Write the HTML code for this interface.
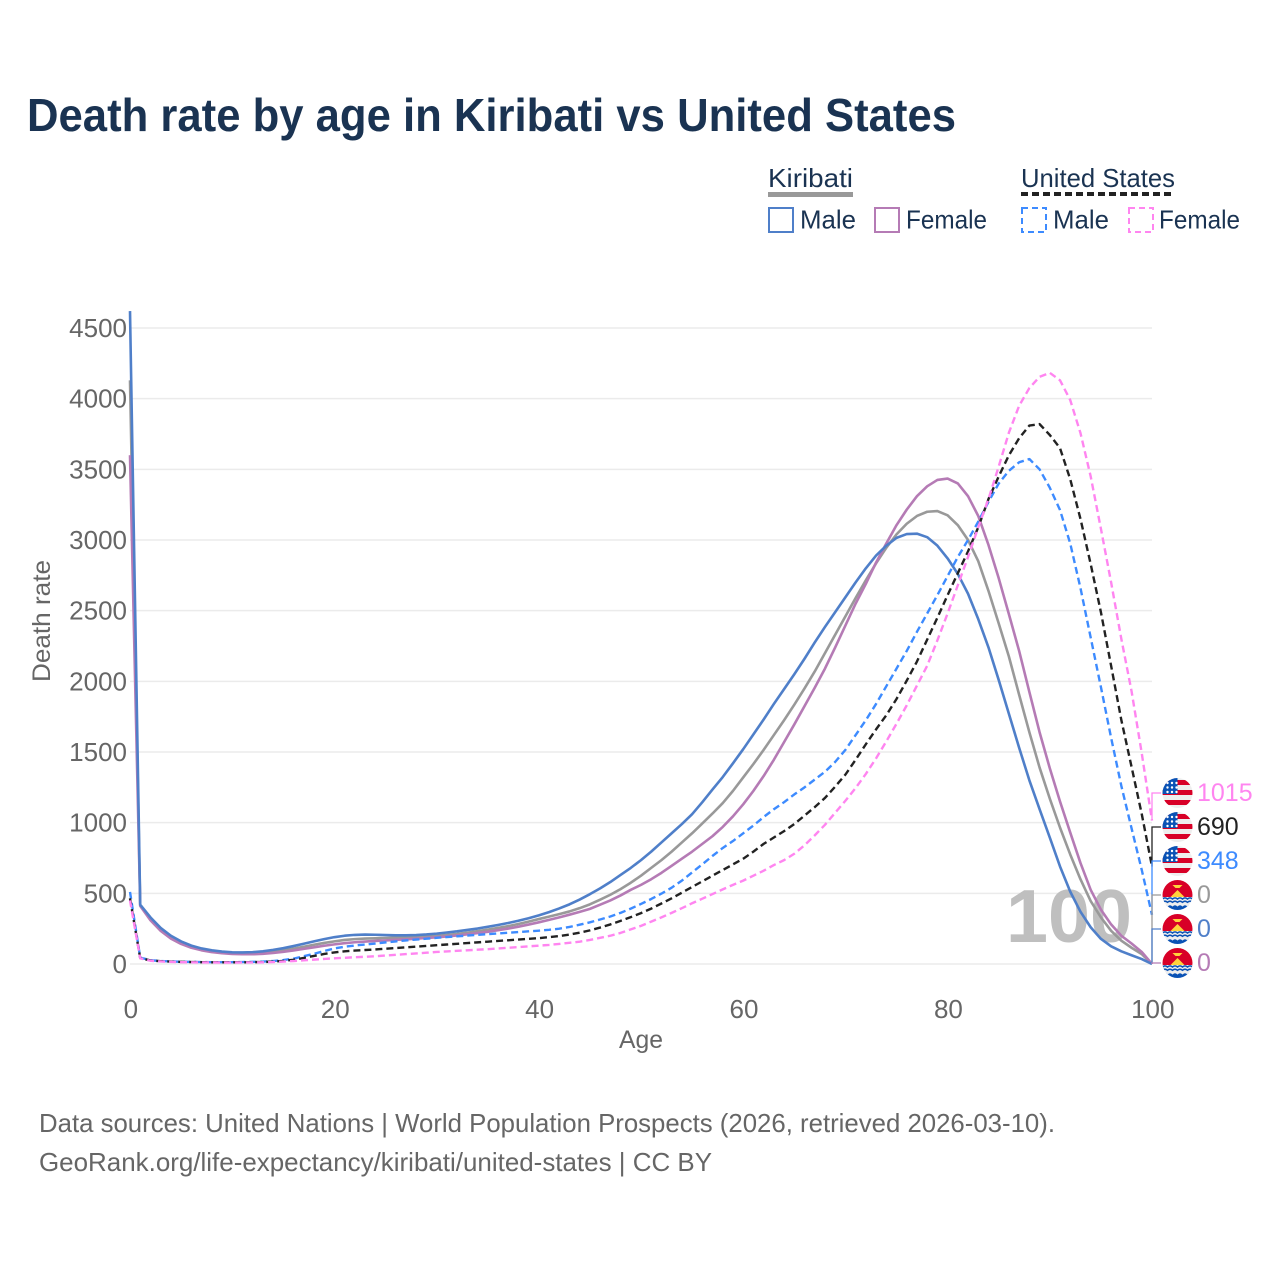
<!DOCTYPE html>
<html lang="en">
<head>
<meta charset="utf-8">
<title>Death rate by age in Kiribati vs United States</title>
<style>
html,body{margin:0;padding:0;background:#fff;width:1280px;height:1280px;overflow:hidden}
svg{display:block}
text{font-family:"Liberation Sans",sans-serif}
</style>
</head>
<body>
<svg id="chart" xmlns="http://www.w3.org/2000/svg" width="1280" height="1280" viewBox="0 0 1280 1280">
  <rect x="0" y="0" width="1280" height="1280" fill="#fff"/>
  <text x="27" y="131" font-size="46" font-weight="700" fill="#1a3352" textLength="929" lengthAdjust="spacingAndGlyphs">Death rate by age in Kiribati vs United States</text>

  <g font-size="26" fill="#1a3352">
    <text x="768" y="187" textLength="85" lengthAdjust="spacingAndGlyphs">Kiribati</text>
    <line x1="768" y1="194.5" x2="853" y2="194.5" stroke="#999" stroke-width="5"/>
    <text x="1021" y="187" textLength="154" lengthAdjust="spacingAndGlyphs">United States</text>
    <line x1="1021" y1="194" x2="1175" y2="194" stroke="#222" stroke-width="4" stroke-dasharray="7 4"/>
    <rect x="769" y="208" width="24" height="24" fill="none" stroke="#4f7fc9" stroke-width="2"/>
    <text x="800" y="228.5" textLength="56" lengthAdjust="spacingAndGlyphs">Male</text>
    <rect x="875" y="208" width="24" height="24" fill="none" stroke="#b57bb5" stroke-width="2"/>
    <text x="906" y="228.5" textLength="81" lengthAdjust="spacingAndGlyphs">Female</text>
    <rect x="1022" y="208" width="24" height="24" fill="none" stroke="#3d8bff" stroke-width="2" stroke-dasharray="6 4"/>
    <text x="1053" y="228.5" textLength="56" lengthAdjust="spacingAndGlyphs">Male</text>
    <rect x="1129" y="208" width="24" height="24" fill="none" stroke="#ff85f0" stroke-width="2" stroke-dasharray="6 4"/>
    <text x="1159" y="228.5" textLength="81" lengthAdjust="spacingAndGlyphs">Female</text>
  </g>

  <g id="grid"></g>
  <g id="yticks"></g>
  <g id="xticks"></g>
  <text x="1132" y="942" text-anchor="end" font-size="75" font-weight="700" fill="#bfbfbf" textLength="126" lengthAdjust="spacingAndGlyphs">100</text>
  <g id="series"></g>
  <g id="ends"></g>

  <text x="641" y="1048" text-anchor="middle" font-size="25" fill="#666" textLength="44" lengthAdjust="spacingAndGlyphs">Age</text>
  <text transform="translate(50,621) rotate(-90)" text-anchor="middle" font-size="25" fill="#666" textLength="122" lengthAdjust="spacingAndGlyphs">Death rate</text>
  <text x="39" y="1132" font-size="26" fill="#666" textLength="1016" lengthAdjust="spacingAndGlyphs">Data sources: United Nations | World Population Prospects (2026, retrieved 2026-03-10).</text>
  <text x="39" y="1171" font-size="26" fill="#666" textLength="673" lengthAdjust="spacingAndGlyphs">GeoRank.org/life-expectancy/kiribati/united-states | CC BY</text>
</svg>
<script>
const yTickValues = [0, 500, 1000, 1500, 2000, 2500, 3000, 3500, 4000, 4500];
const xTickValues = [0, 20, 40, 60, 80, 100];

const kiribatiAll = [
4130,415,320,245,190,150,122,102,90,81,
76,74,75,79,87,97,109,122,136,149,
160,170,176,180,182,184,186,188,190,194,
199,206,213,222,232,243,255,268,283,300,
318,335,353,372,395,422,455,490,530,575,
625,680,735,795,860,925,995,1065,1139,1225,
1320,1415,1515,1620,1725,1835,1950,2070,2200,2330,
2460,2590,2715,2835,2945,3040,3115,3170,3200,3205,
3175,3105,3000,2850,2640,2410,2175,1905,1640,1390,
1170,965,775,600,445,330,235,165,115,70,
0];
const kiribatiFemale = [
3600,410,310,235,180,142,115,97,84,76,
71,69,69,72,78,86,96,107,118,129,
139,147,154,159,163,167,171,175,179,184,
189,195,202,210,219,228,239,251,264,279,
295,312,330,349,369,390,420,450,485,525,
560,600,645,695,745,795,850,905,970,1045,
1130,1225,1330,1445,1570,1695,1825,1955,2090,2240,
2395,2550,2690,2840,2975,3105,3215,3310,3380,3425,
3435,3400,3310,3170,2965,2730,2475,2215,1925,1640,
1385,1150,930,715,525,385,280,200,145,85,
0];
const kiribatiMale = [
4620,420,330,255,200,160,130,110,97,88,
83,82,84,90,100,112,127,143,160,176,
190,200,206,208,207,205,203,203,205,209,
215,223,231,241,251,263,276,290,306,324,
344,367,393,422,456,494,535,580,630,680,
735,795,860,925,990,1060,1145,1235,1323,1420,
1520,1625,1730,1840,1945,2050,2160,2275,2385,2490,
2595,2700,2800,2890,2960,3015,3042,3045,3020,2960,
2870,2760,2620,2440,2240,2010,1770,1530,1300,1095,
895,690,512,370,260,178,125,90,62,35,
0];
const usMale = [
510,45,27,21,18,16,15,14,13,13,
13,14,15,17,21,28,38,55,72,92,
110,122,131,138,145,153,160,167,173,179,
185,191,196,201,206,211,216,221,226,231,
236,242,250,262,278,295,315,336,362,392,
425,460,498,540,590,648,705,765,821,870,
925,980,1040,1095,1145,1200,1250,1305,1360,1430,
1515,1620,1725,1840,1965,2090,2215,2350,2480,2610,
2745,2880,3000,3130,3270,3400,3490,3550,3573,3500,
3370,3212,2975,2660,2310,1960,1600,1260,960,665,
348];
const usAll = [
465,42,25,20,17,15,14,13,12,12,
12,12,13,14,17,22,30,43,57,71,
82,90,95,99,103,108,113,118,123,128,
133,138,143,148,153,158,163,168,173,178,
183,190,198,208,222,238,258,280,305,332,
360,392,428,465,505,545,585,625,665,705,
745,795,850,895,940,990,1050,1110,1175,1255,
1340,1445,1555,1660,1760,1875,2005,2140,2295,2450,
2610,2765,2920,3090,3290,3450,3600,3720,3810,3820,
3743,3650,3430,3150,2830,2490,2110,1726,1395,1060,
690];
const usFemale = [
450,40,23,18,15,13,12,11,11,10,
10,11,11,12,14,17,21,26,31,36,
40,44,48,51,55,60,65,70,75,80,
85,89,93,97,101,105,110,115,120,125,
130,135,142,150,158,170,185,200,220,245,
270,300,330,362,395,430,462,495,528,560,
590,625,660,700,735,780,840,910,985,1070,
1155,1245,1345,1455,1575,1700,1830,1970,2110,2290,
2480,2680,2880,3090,3290,3520,3760,3950,4075,4155,
4183,4130,3990,3757,3450,3080,2700,2300,1930,1490,
1015];

const seriesNames = ["kiribati-all", "kiribati-female", "kiribati-male", "us-male", "us-all", "us-female"];
const seriesValues = [kiribatiAll, kiribatiFemale, kiribatiMale, usMale, usAll, usFemale];
const seriesColors = ["#999999", "#b57bb5", "#4f7fc9", "#3d8bff", "#222222", "#ff85f0"];
const seriesDashed = [false, false, false, true, true, true];
const seriesCountry = ["kiribati", "kiribati", "kiribati", "us", "us", "us"];
const endLabelOrder = ["us-female", "us-all", "us-male", "kiribati-all", "kiribati-male", "kiribati-female"];

const NS = "http://www.w3.org/2000/svg";
function make(tag, parent) {
  const el = document.createElementNS(NS, tag);
  parent.appendChild(el);
  return el;
}
function xScale(age) { return 130 + age * 10.22; }
function yScale(value) { return 964 - value * 0.14133; }

const gridGroup = document.getElementById("grid");
const yGroup = document.getElementById("yticks");
const xGroup = document.getElementById("xticks");
const seriesGroup = document.getElementById("series");
const endsGroup = document.getElementById("ends");
const defs = make("defs", document.getElementById("chart"));

yTickValues.forEach(function (v) {
  const line = make("line", gridGroup);
  
  
  line.setAttribute("x1", xScale(0));
  line.setAttribute("x2", xScale(100));
  line.setAttribute("y1", yScale(v));
  line.setAttribute("y2", yScale(v));
  line.setAttribute("stroke", "#ebebeb");
  line.setAttribute("stroke-width", "1.5");
  const t = make("text", yGroup);
  
  
  t.setAttribute("x", 127);
  t.setAttribute("y", yScale(v) + 9);
  t.setAttribute("text-anchor", "end");
  t.setAttribute("font-size", "26");
  t.setAttribute("fill", "#666");
  t.textContent = v;
});

xTickValues.forEach(function (v) {
  const t = make("text", xGroup);
  
  
  t.setAttribute("x", xScale(v) + 0.8);
  t.setAttribute("y", 1018);
  t.setAttribute("text-anchor", "middle");
  t.setAttribute("font-size", "26");
  t.setAttribute("fill", "#666");
  t.textContent = v;
});

seriesValues.forEach(function (values, i) {
  const p = make("path", seriesGroup);
  
  
  p.setAttribute("d", values.map(function (v, age) {
    return (age ? "L" : "M") + xScale(age).toFixed(2) + "," + yScale(v).toFixed(2);
  }).join(""));
  p.setAttribute("fill", "none");
  p.setAttribute("stroke", seriesColors[i]);
  p.setAttribute("stroke-width", seriesDashed[i] ? "2.4" : "2.6");
  p.setAttribute("stroke-linejoin", "round");
  if (seriesDashed[i]) p.setAttribute("stroke-dasharray", "7 4");
});

function drawFlag(country, cx, cy, idx) {
  const id = "flag-clip-" + idx;
  const cp = make("clipPath", defs);
  cp.setAttribute("id", id);
  const cc = make("circle", cp);
  cc.setAttribute("cx", cx);
  cc.setAttribute("cy", cy);
  cc.setAttribute("r", 15);
  const g = make("g", endsGroup);
  
  
  g.setAttribute("clip-path", "url(#" + id + ")");
  function rect(x, y, w, h, fill) {
    const r = make("rect", g);
    r.setAttribute("x", x);
    r.setAttribute("y", y);
    r.setAttribute("width", w);
    r.setAttribute("height", h);
    r.setAttribute("fill", fill);
  }
  if (country === "us") {
    rect(cx - 15, cy - 15, 30, 30, "#eeeeee");
    for (let s = 0; s < 3; s++) {
      rect(cx - 15, cy - 13 + s * 10, 30, 5, "#d80027");
    }
    rect(cx - 15, cy - 15, 15, 16, "#0a52b5");
    for (let a = 0; a < 3; a++) {
      for (let b = 0; b < 3; b++) {
        const st = make("circle", g);
        st.setAttribute("cx", cx - 10 + a * 4.5);
        st.setAttribute("cy", cy - 10 + b * 4.5);
        st.setAttribute("r", 1.2);
        st.setAttribute("fill", "#fff");
      }
    }
  } else {
    rect(cx - 15, cy - 15, 30, 18, "#d80027");
    rect(cx - 15, cy + 2, 30, 13, "#eeeeee");
    rect(cx - 15, cy + 10, 30, 5, "#0a52b5");
    const sun = make("path", g);
    sun.setAttribute("d", "M" + (cx - 7) + "," + (cy + 2) + "L" + (cx - 3) + "," + (cy - 2) + "L" + cx + "," + (cy - 5) + "L" + (cx + 3) + "," + (cy - 2) + "L" + (cx + 7) + "," + (cy + 2) + "Z");
    sun.setAttribute("fill", "#ffd23c");
    const bird = make("path", g);
    bird.setAttribute("d", "M" + (cx - 5) + "," + (cy - 10) + "L" + (cx + 5) + "," + (cy - 10) + "L" + (cx + 2) + "," + (cy - 7) + "L" + (cx - 2) + "," + (cy - 7) + "Z");
    bird.setAttribute("fill", "#ffd23c");
    for (let w = 0; w < 3; w++) {
      const wave = make("path", g);
      let d = "M" + (cx - 15) + "," + (cy + 4 + w * 3.3);
      for (let k = 0; k < 6; k++) {
        d += "q2.5,-2.2 5,0";
      }
      wave.setAttribute("d", d);
      wave.setAttribute("fill", "none");
      wave.setAttribute("stroke", w === 2 ? "#eeeeee" : "#0a52b5");
      wave.setAttribute("stroke-width", "1.5");
    }
  }
}

endLabelOrder.forEach(function (name, slot) {
  const i = seriesNames.indexOf(name);
  const values = seriesValues[i];
  const last = values[values.length - 1];
  const slotY = 793 + slot * 34;
  const c = make("path", endsGroup);
  
  
  c.setAttribute("d", "M" + xScale(100) + "," + yScale(last).toFixed(2) + "V" + slotY + "H" + (xScale(100) + 9));
  c.setAttribute("fill", "none");
  c.setAttribute("stroke", seriesColors[i]);
  c.setAttribute("stroke-width", "1.3");
  drawFlag(seriesCountry[i], 1177.5, slotY, slot);
  const t = make("text", endsGroup);
  
  
  t.setAttribute("x", 1197);
  t.setAttribute("y", slotY + 8);
  t.setAttribute("font-size", "25");
  t.setAttribute("fill", seriesColors[i]);
  t.textContent = last;
});
</script>
</body>
</html>
